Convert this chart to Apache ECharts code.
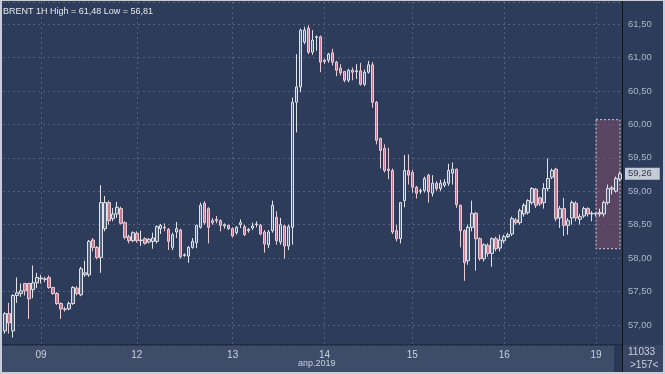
<!DOCTYPE html>
<html>
<head>
<meta charset="utf-8">
<script src="https://cdn.jsdelivr.net/npm/echarts@6/dist/echarts.min.js"></script>
<style>
html,body{margin:0;padding:0;background:#c9ced6;}
#chart{width:665px;height:374px;}
</style>
</head>
<body>
<div id="chart"></div>
<script>
// OHLC values, each as [open, close, low, high]
const ohlc = [
[56.91,57.17,56.87,57.19],[57.17,57.03,56.87,57.33],[56.91,57.44,56.81,57.46],[57.44,57.48,57.33,57.71],
[57.47,57.51,57.42,57.62],[57.62,57.51,57.44,57.63],[57.62,57.39,57.09,57.63],[57.53,57.63,57.40,57.89],
[57.63,57.71,57.55,57.78],[57.69,57.70,57.62,57.75],[57.69,57.68,57.64,57.72],[57.71,57.56,57.54,57.74],
[57.56,57.47,57.45,57.57],[57.47,57.32,57.30,57.49],[57.32,57.24,57.09,57.34],[57.24,57.23,57.20,57.27],
[57.24,57.32,57.22,57.35],[57.32,57.56,57.30,57.58],[57.55,57.47,57.44,57.58],[57.45,57.84,57.43,57.87],
[57.75,57.78,57.72,57.96],[57.75,58.25,57.72,58.27],[58.27,58.16,58.10,58.30],[58.16,58.01,57.98,58.18],
[58.01,58.83,57.78,59.09],[58.44,58.83,58.40,58.93],[58.83,58.56,58.50,58.86],[58.59,58.66,58.55,58.75],
[58.66,58.76,58.60,58.84],[58.74,58.52,58.50,58.77],[58.53,58.31,58.28,58.55],[58.32,58.26,58.22,58.35],
[58.26,58.38,58.24,58.40],[58.37,58.26,58.23,58.40],[58.26,58.27,58.18,58.41],[58.29,58.22,58.20,58.31],
[58.24,58.28,58.22,58.30],[58.25,58.30,58.14,58.38],[58.25,58.47,58.22,58.49],[58.44,58.49,58.36,58.51],
[58.46,58.45,58.40,58.52],[58.43,58.25,58.12,58.45],[58.16,58.35,58.12,58.38],[58.39,58.44,58.30,58.54],
[58.42,58.02,57.99,58.44],[58.04,58.05,58.02,58.07],[58.03,58.16,57.93,58.18],[58.16,58.25,58.14,58.30],
[58.23,58.49,58.15,58.50],[58.46,58.79,58.44,58.83],[58.82,58.53,58.50,58.85],[58.74,58.46,58.22,58.76],
[58.56,58.53,58.50,58.60],[58.58,58.56,58.52,58.63],[58.56,58.49,58.40,58.58],[58.48,58.50,58.44,58.52],
[58.49,58.44,58.42,58.50],[58.44,58.33,58.31,58.46],[58.38,58.46,58.35,58.48],[58.50,58.53,58.45,58.58],
[58.47,58.35,58.33,58.50],[58.41,58.43,58.38,58.45],[58.45,58.48,58.42,58.53],[58.50,58.51,58.46,58.55],
[58.49,58.36,58.34,58.51],[58.39,58.21,58.08,58.42],[58.20,58.39,58.15,58.42],[58.41,58.79,58.38,58.86],
[58.61,58.26,58.20,58.70],[58.24,58.50,58.20,58.60],[58.48,58.18,57.99,58.50],[58.18,58.47,58.12,58.50],
[58.46,60.33,58.20,60.40],[60.33,60.56,59.88,61.05],[60.56,61.41,60.48,61.43],[61.23,61.41,61.20,61.46],
[61.44,61.08,61.05,61.48],[61.08,61.26,61.04,61.41],[61.30,61.31,61.10,61.33],[61.31,60.93,60.78,61.33],
[60.96,60.94,60.90,60.98],[60.96,61.05,60.92,61.07],[61.07,60.93,60.88,61.13],[60.93,60.81,60.72,60.95],
[60.84,60.77,60.73,60.90],[60.79,60.66,60.63,60.80],[60.66,60.81,60.63,60.83],[60.81,60.78,60.66,60.85],
[60.79,60.80,60.68,60.90],[60.80,60.60,60.58,60.92],[60.60,60.78,60.57,60.82],[60.78,60.89,60.76,60.95],
[60.89,60.33,60.25,60.93],[60.33,59.76,59.70,60.35],[59.79,59.61,59.34,59.80],[59.64,59.31,59.28,59.70],
[59.33,59.31,59.18,59.65],[59.31,58.39,58.36,59.34],[58.41,58.29,58.25,58.50],[58.29,58.83,58.22,58.84],
[58.86,59.31,58.76,59.54],[59.31,59.24,59.10,59.55],[59.28,59.06,58.98,59.32],[59.06,58.97,58.89,59.08],
[59.00,59.01,58.96,59.04],[59.01,59.19,58.98,59.22],[59.24,58.99,58.83,59.26],[58.97,59.12,58.92,59.24],
[59.12,59.04,59.00,59.15],[59.04,59.12,59.00,59.17],[59.09,59.13,59.06,59.18],[59.12,59.31,59.08,59.41],
[59.27,59.33,59.10,59.43],[59.33,58.80,58.75,59.34],[58.79,58.41,58.16,58.80],[58.41,57.93,57.66,58.43],
[57.96,58.46,57.90,58.50],[58.46,58.67,58.40,58.86],[58.67,58.29,57.81,58.69],[58.29,57.99,57.96,58.31],
[57.99,58.20,57.95,58.22],[58.19,58.07,58.02,58.22],[58.07,58.29,57.87,58.31],[58.29,58.14,58.10,58.32],
[58.15,58.27,58.10,58.35],[58.26,58.32,58.22,58.35],[58.32,58.35,58.30,58.38],[58.36,58.59,58.33,58.62],
[58.57,58.53,58.50,58.60],[58.53,58.71,58.50,58.74],[58.66,58.79,58.62,58.82],[58.68,58.86,58.65,58.88],
[58.83,59.04,58.80,59.06],[59.03,58.79,58.75,59.05],[58.90,58.81,58.78,58.92],[58.83,59.04,58.74,59.12],
[59.04,59.19,59.00,59.49],[59.21,59.31,59.18,59.34],[59.33,58.59,58.55,59.35],[58.60,58.74,58.45,58.78],
[58.74,58.49,58.33,58.90],[58.49,58.56,58.35,58.60],[58.60,58.83,58.50,58.86],[58.82,58.60,58.55,58.85],
[58.58,58.62,58.50,58.66],[58.63,58.74,58.60,58.77],[58.74,58.66,58.62,58.76],[58.66,58.67,58.55,58.70],
[58.67,58.66,58.63,58.69],[58.66,58.68,58.62,58.74],[58.66,58.83,58.62,58.86],[58.83,59.04,58.80,59.10],
[59.03,59.05,58.95,59.08],[59.00,59.19,58.98,59.22],[59.18,59.26,59.15,59.30]
];
const categories = ohlc.map((_, i) => String(i));
const dayLabels = ['09', '12', '13', '14', '15', '16', '19'];
const dayStartIndex = [9, 33, 57, 80, 102, 125, 148];
const monthLabel = 'апр.2019';
const titleText = 'BRENT 1H High = 61,48 Low = 56,81';
const lastPrice = 59.26;
const sessionBox = { fromIndex: 148, toIndex: 154, low: 58.14, high: 60.07 };
const volumeText = '11033';
const countText = '>157<';

const fmt = v => v.toFixed(2).replace('.', ',');
const labelAt = {};
dayStartIndex.forEach((idx, k) => { labelAt[idx] = dayLabels[k]; });

const chart = echarts.init(document.getElementById('chart'), null, { renderer: 'canvas' });
const FONT = 'Liberation Sans';

chart.setOption({
  animation: false,
  backgroundColor: '#2d3c5a',
  textStyle: { fontFamily: FONT },
  grid: { left: 3, right: 43, top: 2, bottom: 29, containLabel: false },
  graphic: [
    { type: 'rect', z: -1, shape: { x: 0, y: 0, width: 665, height: 374 }, style: { fill: '#c9ced6' } },
    { type: 'rect', z: -1, shape: { x: 2, y: 1, width: 661, height: 371 }, style: { fill: '#2d3c5a' } },
    { type: 'rect', z: 0, shape: { x: 2, y: 345, width: 620, height: 27 }, style: { fill: '#3d4c69' } },
    { type: 'rect', z: 0, shape: { x: 614, y: 345, width: 8, height: 27 }, style: { fill: '#2a3855' } },
    { type: 'rect', z: 0, shape: { x: 622, y: 345, width: 41, height: 27 }, style: { fill: '#384663' } },
    { type: 'line', z: 5, shape: { x1: 2, y1: 345, x2: 622, y2: 345 }, style: { stroke: '#141c2c', lineWidth: 1 } },
    { type: 'line', z: 5, shape: { x1: 622.5, y1: 1, x2: 622.5, y2: 372 }, style: { stroke: '#0e1420', lineWidth: 1 } },
    { type: 'text', z: 10, left: 3, top: 7, style: { text: titleText, fill: '#e4e8f0', font: '9px "Liberation Sans"' } },
    { type: 'text', z: 10, left: 298, top: 359, style: { text: monthLabel, fill: '#c8d0dc', font: '9px "Liberation Sans"' } },
    { type: 'text', z: 10, left: 628, top: 347, style: { text: volumeText, fill: '#c8d0dc', font: '10px "Liberation Sans"' } },
    { type: 'text', z: 10, left: 630, top: 360, style: { text: countText, fill: '#c8d0dc', font: '10px "Liberation Sans"' } }
  ],
  xAxis: {
    type: 'category',
    data: categories,
    boundaryGap: true,
    axisLine: { show: false },
    axisTick: { show: false },
    axisLabel: {
      interval: (idx) => labelAt[idx] !== undefined,
      formatter: (v, idx) => labelAt[idx] || '',
      color: '#c8d0dc', fontSize: 10, margin: 5, fontFamily: FONT
    },
    splitLine: {
      show: true, alignWithLabel: true,
      interval: (idx) => labelAt[idx] !== undefined,
      lineStyle: { color: 'rgba(150,165,195,0.35)', type: [2, 3], width: 1 }
    }
  },
  yAxis: {
    type: 'value',
    position: 'right',
    min: 56.70,
    max: 61.83,
    splitNumber: 10,
    scale: true,
    axisLine: { show: false },
    axisTick: { show: false },
    axisLabel: {
      showMinLabel: false, showMaxLabel: false,
      formatter: v => fmt(v),
      color: '#a9b6cc', fontSize: 9.5, margin: 6, fontFamily: FONT
    },
    splitLine: { show: true, lineStyle: { color: 'rgba(150,165,195,0.35)', type: [2, 3], width: 1 } }
  },
  series: [{
    type: 'candlestick',
    data: ohlc,
    barWidth: 3,
    itemStyle: {
      color: '#56627c',
      color0: '#c27a92',
      borderColor: '#dfe3ea',
      borderColor0: '#e6ccd4',
      borderWidth: 1
    },
    markArea: {
      silent: true,
      itemStyle: { color: 'rgba(125,75,105,0.55)', borderColor: '#cfcfd8', borderWidth: 1, borderType: [2, 2] },
      data: [[
        { xAxis: categories[sessionBox.fromIndex], yAxis: sessionBox.high },
        { xAxis: categories[sessionBox.toIndex], yAxis: sessionBox.low }
      ]]
    },
    markLine: {
      silent: true,
      symbol: 'none',
      animation: false,
      lineStyle: { color: 'rgba(0,0,0,0)', width: 1, type: 'solid' },
      label: {
        show: true,
        position: 'end', distance: 3,
        formatter: () => fmt(lastPrice),
        color: '#2f3a52', backgroundColor: '#c6ccd6',
        padding: [1, 8, 1, 3], fontSize: 9.5, fontFamily: FONT
      },
      emphasis: { disabled: true },
      data: [{ yAxis: lastPrice }]
    }
  }]
});
</script>
</body>
</html>
